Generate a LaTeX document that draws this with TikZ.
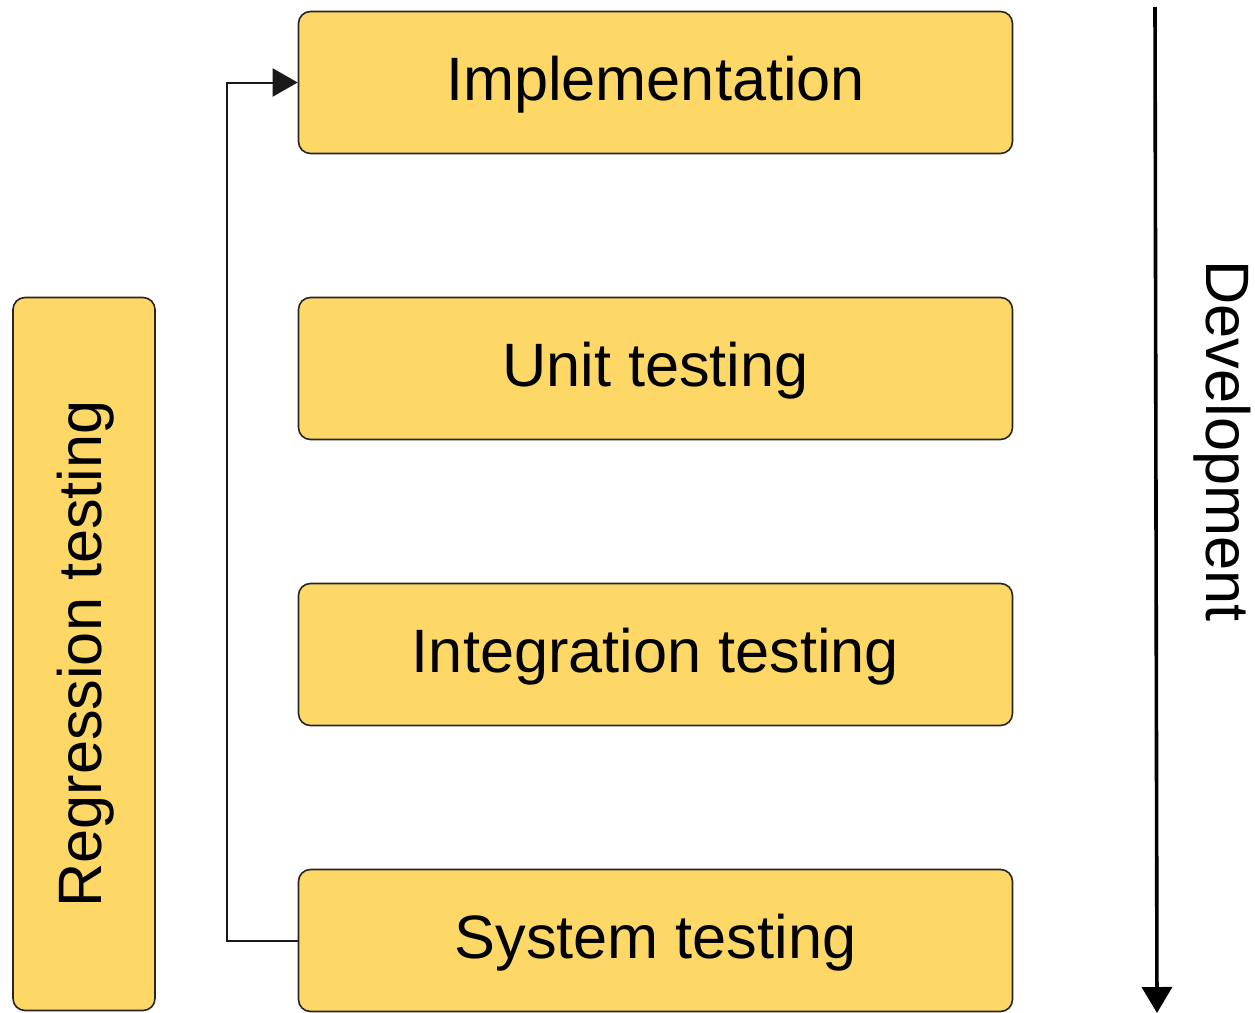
\documentclass[tikz,border=0pt]{standalone}
\usepackage{fontspec}
\setmainfont{Liberation Sans}
\usetikzlibrary{arrows.meta}
\definecolor{boxfill}{RGB}{254,216,102}
\begin{document}
\begin{tikzpicture}[x=1bp,y=-1bp,
  lbl/.style={font=\fontsize{61.5}{70}\selectfont},
  stage/.style={lbl, draw=black!85, line width=1.6bp, fill=boxfill, rounded corners=12bp,
    minimum width=714bp, minimum height=142bp, inner sep=0pt, text height=44bp, text depth=9bp},
  conn/.style={draw=black!90, line width=2bp},
  devarrow/.style={draw=black, line width=3.6bp}]
\useasboundingbox (0,0) rectangle (1255,1013);
\node[stage] (impl) at (655.5,82.5) {Implementation};
\node[stage] (unit) at (655.5,368.5) {Unit testing};
\node[stage] (integ) at (655.5,654.5) {Integration testing};
\node[stage] (sys) at (655.5,940.5) {System testing};
\node[stage, rotate=90, minimum width=713bp, minimum height=142bp] (reg) at (84,654) {Regression testing};
\draw[conn, -{Triangle[width=28bp,length=25bp]}] (sys.west) -- ++(-71,0) |- (impl.west);
\coordinate (devtop) at (1155,7);
\coordinate (devbot) at (1157,1013);
\draw[devarrow, -{Triangle[width=30bp,length=26bp]}] (devtop) -- (devbot);
\node[lbl, rotate=-90] (dev) at (1222,441) {Development};
\end{tikzpicture}
\end{document}
